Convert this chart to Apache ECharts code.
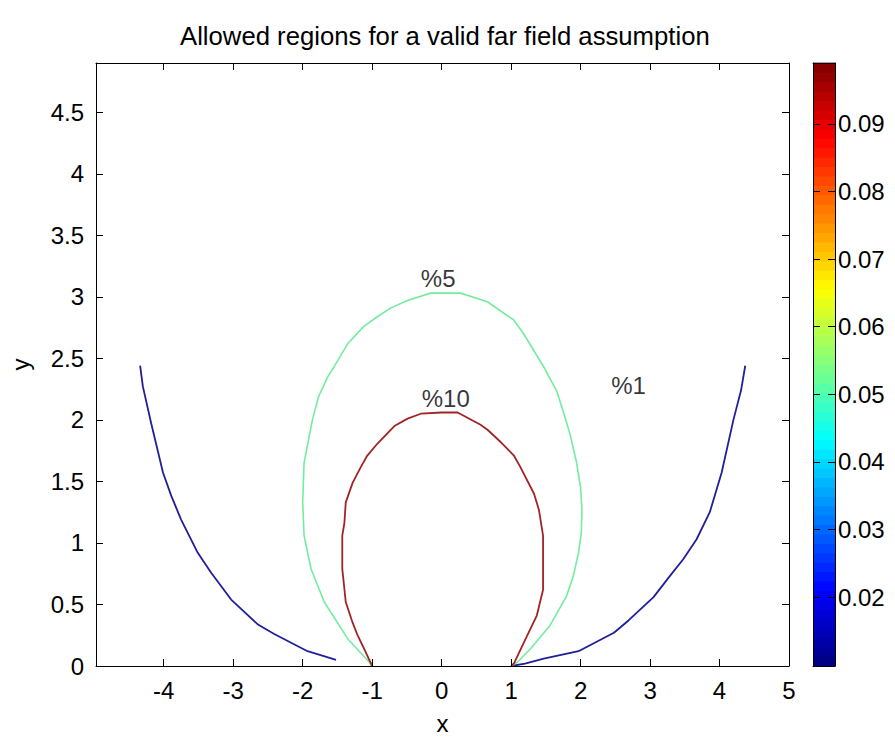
<!DOCTYPE html>
<html>
<head>
<meta charset="utf-8">
<script src="https://cdn.jsdelivr.net/npm/echarts@6/dist/echarts.min.js"></script>
<style>
  html, body { margin: 0; padding: 0; background: #ffffff; }
  #chart { width: 895px; height: 742px; }
</style>
</head>
<body>
<div id="chart"></div>
<script>
// Axis tick values
const xTicks = [-4, -3, -2, -1, 0, 1, 2, 3, 4, 5];
const yTicks = [0, 0.5, 1, 1.5, 2, 2.5, 3, 3.5, 4, 4.5];
const cbTicks = [0.02, 0.03, 0.04, 0.05, 0.06, 0.07, 0.08, 0.09];

// Axis extents
const xRange = [-4.975, 5];
const yRange = [0, 4.9];
const cbRange = [0.0098, 0.099];

// 1% contour, left branch
const contour1Left = [
  [-4.34, 2.44], [-4.30, 2.27], [-4.18, 1.97], [-4.01, 1.57], [-3.89, 1.38],
  [-3.75, 1.19], [-3.51, 0.92], [-3.32, 0.76], [-3.03, 0.54], [-2.65, 0.34],
  [-2.41, 0.26], [-1.93, 0.12], [-1.52, 0.05]
];
// 1% contour, right branch
const contour1Right = [
  [4.37, 2.44], [4.31, 2.24], [4.20, 2.00], [4.03, 1.57], [3.86, 1.25],
  [3.67, 1.03], [3.48, 0.87], [3.27, 0.72], [3.05, 0.56], [2.69, 0.37],
  [2.48, 0.27], [1.97, 0.12], [1.47, 0.06], [1.20, 0.02], [1.00, 0.00]
];
// 5% contour
const contour5 = [
  [-1.00, 0.00], [-1.04, 0.03], [-1.35, 0.22], [-1.69, 0.52], [-1.88, 0.79],
  [-1.98, 1.06], [-2.00, 1.33], [-1.98, 1.65], [-1.86, 2.00], [-1.77, 2.19],
  [-1.64, 2.35], [-1.55, 2.43], [-1.35, 2.62], [-1.12, 2.76], [-0.92, 2.84],
  [-0.73, 2.91], [-0.49, 2.97], [-0.16, 3.03], [0.27, 3.03], [0.66, 2.96],
  [1.04, 2.81], [1.18, 2.70], [1.47, 2.43], [1.66, 2.23], [1.76, 2.05],
  [1.85, 1.88], [1.94, 1.66], [2.00, 1.45], [2.02, 1.27], [2.01, 1.08],
  [1.97, 0.92], [1.90, 0.74], [1.80, 0.57], [1.56, 0.33], [1.28, 0.14],
  [1.09, 0.03], [1.00, 0.00]
];
// 10% contour
const contour10 = [
  [-1.00, 0.00], [-1.10, 0.12], [-1.21, 0.25], [-1.28, 0.35], [-1.38, 0.52],
  [-1.43, 0.79], [-1.43, 1.06], [-1.40, 1.16], [-1.38, 1.33], [-1.28, 1.49],
  [-1.16, 1.62], [-1.07, 1.71], [-0.92, 1.81], [-0.68, 1.95], [-0.49, 2.01],
  [-0.30, 2.05], [0.00, 2.06], [0.23, 2.06], [0.56, 1.96], [0.66, 1.92],
  [0.85, 1.82], [1.04, 1.71], [1.13, 1.62], [1.33, 1.40], [1.40, 1.27],
  [1.46, 1.06], [1.46, 0.62], [1.37, 0.41], [1.20, 0.21], [1.04, 0.02],
  [1.00, 0.00]
];
// In-line contour labels: text, x, y
const labelText = ['%5', '%10', '%1'];
const labelX = [-0.05, 0.06, 2.69];
const labelY = [3.15, 2.17, 2.28];

// Jet colormap, 64 steps
function jet(n) {
  const clamp = v => Math.max(0, Math.min(1, v));
  const out = [];
  for (let i = 0; i < n; i++) {
    const t = (i + 0.5) / n;
    const r = clamp(1.5 - Math.abs(4 * t - 3));
    const g = clamp(1.5 - Math.abs(4 * t - 2));
    const b = clamp(1.5 - Math.abs(4 * t - 1));
    out.push('rgb(' + Math.round(r * 255) + ',' + Math.round(g * 255) + ',' + Math.round(b * 255) + ')');
  }
  return out;
}
const jetColors = jet(64);
const cbBands = jetColors.map((c, i) => {
  const step = (cbRange[1] - cbRange[0]) / jetColors.length;
  return [cbRange[0] + i * step, cbRange[0] + (i + 1) * step, i];
});

const FONT = '"Liberation Sans", Arial, Helvetica, sans-serif';
const tickFont = { fontFamily: FONT, fontSize: 24, color: '#000' };
const lineCol = { color: '#000', width: 1 };

const chart = echarts.init(document.getElementById('chart'), null, { renderer: 'svg' });

const plotGrid = { left: 95, top: 63, width: 694, height: 603 };
const cbGrid = { left: 813, top: 63, width: 22, height: 603 };

chart.setOption({
  backgroundColor: '#ffffff',
  animation: false,
  title: {
    text: 'Allowed regions for a valid far field assumption',
    left: 175,
    top: 18,
    textStyle: { fontFamily: FONT, fontSize: 25.7, fontWeight: 'normal', color: '#000' }
  },
  grid: [plotGrid, cbGrid],
  xAxis: [
    {
      gridIndex: 0, type: 'value', position: 'bottom', min: xRange[0], max: xRange[1],
      name: 'x', nameLocation: 'middle', nameGap: 45,
      nameTextStyle: { fontFamily: FONT, fontSize: 24, color: '#000' },
      axisLine: { show: true, onZero: false, lineStyle: lineCol },
      axisTick: { show: true, inside: true, length: 7, customValues: xTicks, lineStyle: lineCol },
      axisLabel: { show: true, margin: 12, customValues: xTicks, formatter: v => String(Math.round(v)), ...tickFont },
      splitLine: { show: false }, z: 5
    },
    {
      gridIndex: 0, type: 'value', position: 'top', min: xRange[0], max: xRange[1],
      axisLine: { show: true, onZero: false, lineStyle: lineCol },
      axisTick: { show: true, inside: true, length: 7, customValues: xTicks, lineStyle: lineCol },
      axisLabel: { show: false }, splitLine: { show: false }, z: 5
    },
    {
      gridIndex: 1, type: 'value', position: 'bottom', min: 0, max: 1,
      axisLine: { show: true, onZero: false, lineStyle: lineCol },
      axisTick: { show: false }, axisLabel: { show: false }, splitLine: { show: false }, z: 5
    },
    {
      gridIndex: 1, type: 'value', position: 'top', min: 0, max: 1,
      axisLine: { show: true, onZero: false, lineStyle: lineCol },
      axisTick: { show: false }, axisLabel: { show: false }, splitLine: { show: false }, z: 5
    }
  ],
  yAxis: [
    {
      gridIndex: 0, type: 'value', position: 'left', min: yRange[0], max: yRange[1],
      name: 'y', nameLocation: 'middle', nameGap: 64, nameRotate: 90,
      nameTextStyle: { fontFamily: FONT, fontSize: 24, color: '#000' },
      axisLine: { show: true, onZero: false, lineStyle: lineCol },
      axisTick: { show: true, inside: true, length: 7, customValues: yTicks, lineStyle: lineCol },
      axisLabel: { show: true, margin: 12, customValues: yTicks, formatter: v => String(v), ...tickFont },
      splitLine: { show: false }, z: 5
    },
    {
      gridIndex: 0, type: 'value', position: 'right', min: yRange[0], max: yRange[1],
      axisLine: { show: true, onZero: false, lineStyle: lineCol },
      axisTick: { show: true, inside: true, length: 7, customValues: yTicks, lineStyle: lineCol },
      axisLabel: { show: false }, splitLine: { show: false }, z: 5
    },
    {
      gridIndex: 1, type: 'value', position: 'right', min: cbRange[0], max: cbRange[1],
      axisLine: { show: true, onZero: false, lineStyle: lineCol },
      axisTick: { show: true, inside: true, length: 7, customValues: cbTicks, lineStyle: lineCol },
      axisLabel: { show: true, margin: 3, customValues: cbTicks, formatter: v => v.toFixed(2), ...tickFont },
      splitLine: { show: false }, z: 5
    },
    {
      gridIndex: 1, type: 'value', position: 'left', min: cbRange[0], max: cbRange[1],
      axisLine: { show: true, onZero: false, lineStyle: lineCol },
      axisTick: { show: true, inside: true, length: 7, customValues: cbTicks, lineStyle: lineCol },
      axisLabel: { show: false }, splitLine: { show: false }, z: 5
    }
  ],
  series: [
    {
      name: 'colorbar', type: 'custom', xAxisIndex: 2, yAxisIndex: 2,
      data: cbBands, silent: true, z: 1,
      renderItem: (params, api) => {
        const top = api.coord([0, api.value(1)]);
        const bottom = api.coord([1, api.value(0)]);
        return {
          type: 'rect',
          shape: { x: top[0], y: top[1] - 0.4, width: bottom[0] - top[0], height: bottom[1] - top[1] + 0.8 },
          style: { fill: jetColors[api.value(2)], stroke: null }
        };
      }
    },
    {
      name: '1% left', type: 'line', data: contour1Left, showSymbol: false,
      lineStyle: { color: '#1f1f98', width: 1.8 }, z: 3
    },
    {
      name: '1% right', type: 'line', data: contour1Right, showSymbol: false,
      lineStyle: { color: '#1f1f98', width: 1.8 }, z: 3
    },
    {
      name: '5%', type: 'line', data: contour5, showSymbol: false,
      lineStyle: { color: '#74ec9e', width: 1.6 }, z: 3
    },
    {
      name: '10%', type: 'line', data: contour10, showSymbol: false,
      lineStyle: { color: '#a02424', width: 1.8 }, z: 3
    },
    {
      name: 'labels', type: 'scatter', symbolSize: 1,
      itemStyle: { color: 'rgba(0,0,0,0)' },
      data: labelText.map((t, i) => ({ name: t, value: [labelX[i], labelY[i]] })),
      label: { show: true, position: 'inside', formatter: '{b}', fontFamily: FONT, fontSize: 24, color: '#000' },
      z: 4
    }
  ]
});
</script>
</body>
</html>
